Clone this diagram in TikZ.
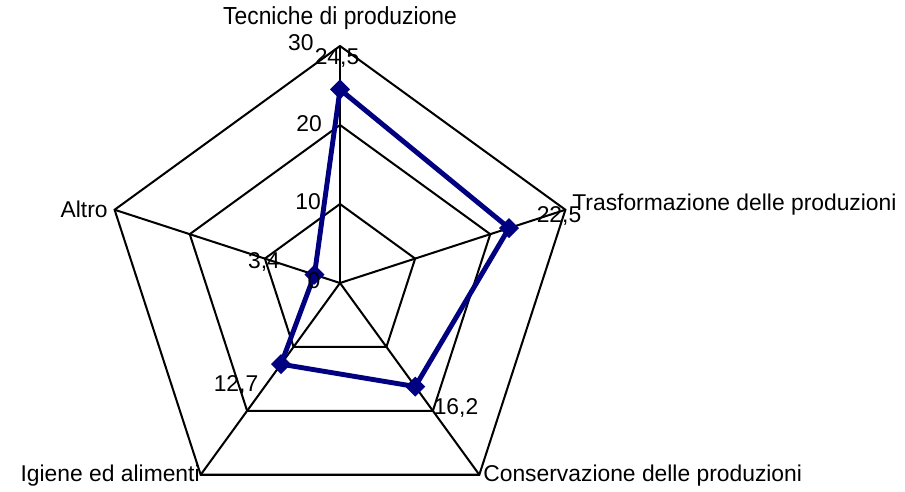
\documentclass[tikz,border=0pt]{standalone}
\usepackage{fontspec}
\setmainfont{Liberation Sans}
\usetikzlibrary{shapes.geometric}

\begin{document}
\begin{tikzpicture}[x=0.02cm,y=0.02cm,
	grid/.style={line width=1.15pt,line join=miter},
	serie/.style={line width=2.8pt,draw={rgb,255:red,0;green,0;blue,128}},
	pt/.style={diamond,fill={rgb,255:red,0;green,0;blue,128},inner sep=0,outer sep=0,minimum size=0.4cm},
	lbl/.style={inner sep=0,font=\fontsize{13}{15}\selectfont}]
	\useasboundingbox (0,0) rectangle (905,491);
	\begin{scope}[shift={(340,208)}]
		\coordinate (c) at (0,0);
		% rings at 10, 20, 30
		\foreach \a [count=\i] in {90,18,-54,-126,162} {
			\coordinate (p1\i) at (\a:79);
			\coordinate (p2\i) at (\a:158);
			\coordinate (p3\i) at (\a:237);
			\draw[grid] (c) -- (p3\i);
		}
		\draw[grid] (p11) -- (p12) -- (p13) -- (p14) -- (p15) -- cycle;
		\draw[grid] (p21) -- (p22) -- (p23) -- (p24) -- (p25) -- cycle;
		\draw[grid] (p31) -- (p32) -- (p33) -- (p34) -- (p35) -- cycle;
		% data
		\node[pt] (d1) at (90:{24.5*7.9}) {};
		\node[pt] (d2) at (18:{22.5*7.9}) {};
		\node[pt] (d3) at (-54:{16.2*7.9}) {};
		\node[pt] (d4) at (-126:{12.7*7.9}) {};
		\node[pt] (d5) at (162:{3.4*7.9}) {};
		\draw[serie,line join=round] (d1.center) -- (d2.center) -- (d3.center) -- (d4.center) -- (d5.center) -- cycle;
	\end{scope}
	% axis names
	\node[lbl,yscale=1.08,transform shape] (n1) at (340,473) {Tecniche di produzione};
	\node[lbl,anchor=west] (n2) at (572,286) {Trasformazione delle produzioni};
	\node[lbl,anchor=west] (n3) at (483,15) {Conservazione delle produzioni};
	\node[lbl,anchor=east] (n4) at (200,15) {Igiene ed alimenti};
	\node[lbl,anchor=east] (n5) at (108,282) {Altro};
	% scale
	\node[lbl,anchor=east] (s30) at (314,448) {30};
	\node[lbl] (s20) at (309,367) {20};
	\node[lbl] (s10) at (308,289) {10};
	\node[lbl] (s0) at (314,210) {0};
	% values
	\node[lbl] (v1) at (337,433) {24,5};
	\node[lbl] (v2) at (559,275) {22,5};
	\node[lbl] (v3) at (456,83) {16,2};
	\node[lbl] (v4) at (236,106) {12,7};
	\node[lbl] (v5) at (264,229) {3,4};
\end{tikzpicture}
\end{document}
